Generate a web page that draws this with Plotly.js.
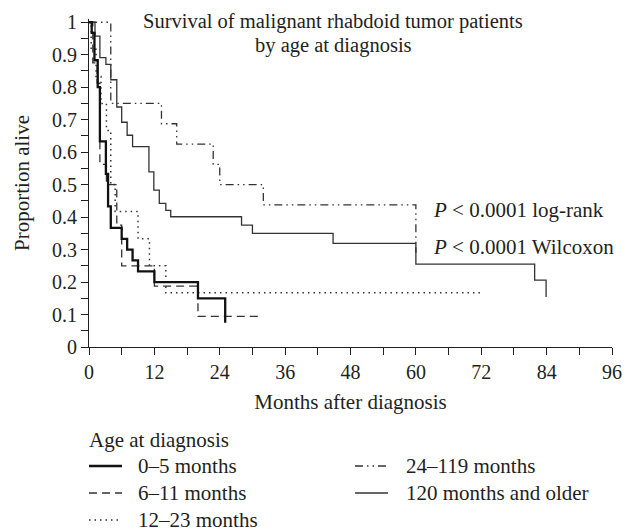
<!DOCTYPE html>
<html>
<head>
<meta charset="utf-8">
<script src="https://cdn.plot.ly/plotly-3.0.1.min.js"></script>
<style>html,body{margin:0;padding:0;background:#fff;}#chart{width:634px;height:532px;}</style>
</head>
<body>
<div id="chart"></div>
<script>
// ---- data ----
const seriesNames = ['0–5 months', '6–11 months', '12–23 months', '24–119 months', '120 months and older'];

const months0to5   = [0, 0.5, 1.0, 1.6, 2.0, 3.1, 3.5, 4.0, 6.0, 7.0, 8.0, 9.0, 12.0, 20.0, 25.0];
const surv0to5     = [1, 0.967, 0.883, 0.8, 0.633, 0.533, 0.433, 0.367, 0.333, 0.3, 0.267, 0.233, 0.2, 0.15, 0.075];

const months6to11  = [0, 0.7, 1.5, 2.0, 3.2, 5.1, 6.0, 12.0, 20.0, 31.0];
const surv6to11    = [1, 0.875, 0.8125, 0.5625, 0.5, 0.375, 0.25, 0.1875, 0.094, 0.094];

const months12to23 = [0, 0.4, 1.3, 2.2, 3.2, 4.0, 4.8, 9.0, 11.1, 14.1, 72.0];
const surv12to23   = [1, 0.917, 0.833, 0.75, 0.667, 0.5, 0.417, 0.333, 0.25, 0.167, 0.167];

const months24to119 = [0, 4.0, 13.3, 16.1, 22.8, 24.0, 32.0, 60.0];
const surv24to119   = [1, 0.75, 0.6875, 0.625, 0.5625, 0.5, 0.4375, 0.29];

const months120plus = [0, 1.1, 2.0, 3.1, 4.0, 5.1, 6.0, 7.0, 8.0, 11.0, 11.9, 12.9, 14.1, 15.0, 28.0, 30.0, 44.8, 60.0, 81.8, 83.9];
const surv120plus   = [1, 0.957, 0.891, 0.87, 0.823, 0.739, 0.692, 0.652, 0.617, 0.539, 0.483, 0.442, 0.421, 0.401, 0.375, 0.35, 0.319, 0.255, 0.206, 0.154];

const xTickVals = [0, 12, 24, 36, 48, 60, 72, 84, 96];
const xTickText = ['0', '12', '24', '36', '48', '60', '72', '84', '96'];
const yTickVals = [0, 0.1, 0.2, 0.3, 0.4, 0.5, 0.6, 0.7, 0.8, 0.9, 1];
const yTickText = ['0', '0.1', '0.2', '0.3', '0.4', '0.5', '0.6', '0.7', '0.8', '0.9', '1'];

const titleLines = ['Survival of malignant rhabdoid tumor patients', 'by age at diagnosis'];

// ---- styles ----
const FONT = '"Liberation Serif", "Times New Roman", serif';
const INK = '#231f20';
const styles = [
  {color: '#111', width: 2.3, dash: 'solid'},
  {color: '#333', width: 1.3, dash: '8px,5px'},
  {color: '#333', width: 1.5, dash: '1.5px,4px'},
  {color: '#333', width: 1.3, dash: '8px,4px,1.5px,4px,1.5px,4px'},
  {color: '#333', width: 1.3, dash: 'solid'}
];
const xs = [months0to5, months6to11, months12to23, months24to119, months120plus];
const ys = [surv0to5, surv6to11, surv12to23, surv24to119, surv120plus];

// draw order: thin lines first, thick on top
const order = [4, 3, 2, 1, 0];
const traces = order.map(i => ({
  type: 'scatter', mode: 'lines', name: seriesNames[i],
  x: xs[i], y: ys[i],
  line: {shape: 'hv', color: styles[i].color, width: styles[i].width, dash: styles[i].dash},
  hoverinfo: 'skip', showlegend: false
}));

// ---- layout geometry ----
const W = 634, H = 532, L = 89, R = 22, T = 19, B = 185;
const px2x = px => (px - L) / (W - L - R);
const py2y = py => (H - B - py) / (H - T - B);

// custom legend (matches the two-column layout of the reference)
const legTitleY = 440, rowY0 = 466, rowGap = 27;
const colLineX = [89, 355], lineLen = 33, colTextX = [136, 404];
const legendSlots = [[0, 0], [0, 1], [0, 2], [1, 0], [1, 1]]; // [column,row] per series
const shapes = [];
const annotations = [];
legendSlots.forEach(([c, r], i) => {
  const py = rowY0 + r * rowGap;
  shapes.push({type: 'line', xref: 'paper', yref: 'paper',
    x0: px2x(colLineX[c]), x1: px2x(colLineX[c] + lineLen), y0: py2y(py), y1: py2y(py),
    line: {color: styles[i].color, width: styles[i].width, dash: styles[i].dash}});
  annotations.push({xref: 'paper', yref: 'paper', x: px2x(colTextX[c]), y: py2y(py),
    xanchor: 'left', yanchor: 'middle', text: seriesNames[i], showarrow: false,
    font: {family: FONT, size: 21, color: INK}});
});
annotations.push({xref: 'paper', yref: 'paper', x: px2x(87), y: py2y(legTitleY),
  xanchor: 'left', yanchor: 'middle', text: 'Age at diagnosis', showarrow: false,
  font: {family: FONT, size: 21, color: INK}});
annotations.push({xref: 'paper', yref: 'paper', x: px2x(431), y: py2y(210),
  xanchor: 'left', yanchor: 'middle', text: '<i>P</i> < 0.0001 log-rank', showarrow: false,
  font: {family: FONT, size: 21, color: INK}});
annotations.push({xref: 'paper', yref: 'paper', x: px2x(431), y: py2y(247),
  xanchor: 'left', yanchor: 'middle', text: '<i>P</i> < 0.0001 Wilcoxon', showarrow: false,
  font: {family: FONT, size: 21, color: INK}});
// chart title: two centred lines drawn inside the plot's top area as in the reference
const titleCenterX = 333, titleLineY = [21, 46];
titleLines.forEach((t, k) => {
  annotations.push({xref: 'paper', yref: 'paper', x: px2x(titleCenterX), y: py2y(titleLineY[k]),
    xanchor: 'center', yanchor: 'middle', text: t, showarrow: false,
    font: {family: FONT, size: 20.5, color: INK}});
});

const axisCommon = {
  showgrid: false, zeroline: false, showline: true, linecolor: INK, linewidth: 1,
  ticks: 'outside', ticklen: 7, tickwidth: 1, tickcolor: INK,
  tickfont: {family: FONT, size: 20, color: INK}, tickmode: 'array'
};

const layout = {
  width: W, height: H,
  margin: {l: L, r: R, t: T, b: B, pad: 0},
  paper_bgcolor: '#fff', plot_bgcolor: '#fff',
  showlegend: false,
  font: {family: FONT, color: INK},
  xaxis: Object.assign({}, axisCommon, {
    range: [0, 96], tickvals: xTickVals, ticktext: xTickText,
    minor: {dtick: 6, tick0: 0, ticks: 'outside', ticklen: 7, tickwidth: 1, tickcolor: INK, showgrid: false},
    title: {text: 'Months after diagnosis', font: {family: FONT, size: 21, color: INK}, standoff: 12}
  }),
  yaxis: Object.assign({}, axisCommon, {
    range: [0, 1.01], tickvals: yTickVals, ticktext: yTickText,
    minor: {dtick: 0.05, tick0: 0, ticks: 'outside', ticklen: 7, tickwidth: 1, tickcolor: INK, showgrid: false},
    title: {text: 'Proportion alive', font: {family: FONT, size: 21, color: INK}, standoff: 16}
  }),
  shapes: shapes,
  annotations: annotations
};

Plotly.newPlot('chart', traces, layout, {displayModeBar: false, staticPlot: true});
</script>
</body>
</html>
